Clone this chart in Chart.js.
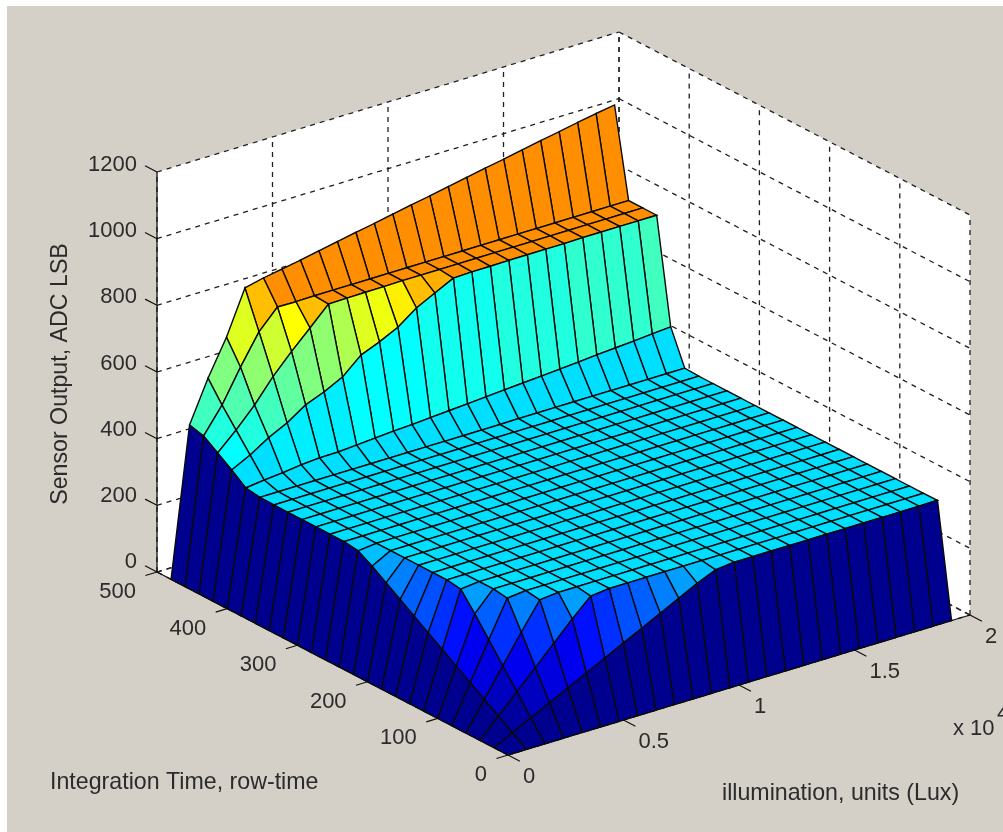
<!DOCTYPE html>
<html>
<head>
<meta charset="utf-8">
<title>Sensor Output</title>
<style>
    html, body { margin: 0; padding: 0; background: #ffffff; overflow: hidden; }
    #frame { position: absolute; left: 7px; top: 6px; width: 996px; height: 826px; background: #d4d0c8; }
    #surface { position: absolute; left: 0; top: 0; }
</style>
<script src="https://cdn.jsdelivr.net/npm/chart.js@4"></script>
</head>
<body>
<div id="frame"></div>
<canvas id="surface" width="1003" height="832"></canvas>
<script>
// ---------- Data ----------

const illumination = [0, 800, 1600, 2400, 3200, 4000, 4800, 5600, 6400, 7200, 8000, 8800, 9600,
    10400, 11200, 12000, 12800, 13600, 14400, 15200, 16000, 16800, 17600, 18400, 19200];

const integrationTime = [0, 20, 40, 60, 80, 100, 120, 140, 160, 180, 200, 220, 240,
    260, 280, 300, 320, 340, 360, 380, 400, 420, 440, 460, 480];

// sensor output, one list per integration time, one value per illumination
const outT0 = [0, 0, 0, 0, 0, 0, 0, 0, 0, 0, 0, 0, 0, 0, 0, 0, 0, 0, 0, 0, 0, 0, 0, 0, 0];
const outT20 = [0, 28, 56, 84, 112, 140, 168, 196, 224, 252, 280, 308, 332, 338, 338, 338, 338, 338, 338, 338, 338, 338, 338, 338, 339];
const outT40 = [0, 56, 112, 168, 224, 280, 332, 338, 338, 338, 338, 338, 338, 338, 338, 338, 338, 338, 338, 338, 338, 338, 338, 338, 338];
const outT60 = [0, 84, 168, 252, 332, 338, 338, 338, 338, 338, 338, 338, 338, 338, 338, 338, 338, 338, 338, 338, 338, 338, 338, 338, 338];
const outT80 = [0, 112, 224, 332, 338, 338, 338, 338, 338, 338, 338, 338, 338, 338, 338, 338, 338, 338, 338, 338, 338, 338, 338, 338, 338];
const outT100 = [0, 140, 280, 338, 338, 338, 338, 338, 338, 338, 338, 338, 338, 338, 338, 338, 338, 338, 338, 338, 338, 338, 338, 338, 338];
const outT120 = [0, 168, 332, 338, 338, 338, 338, 338, 338, 338, 338, 338, 338, 338, 338, 338, 338, 338, 338, 338, 338, 338, 338, 338, 338];
const outT140 = [0, 196, 338, 338, 338, 338, 338, 338, 338, 338, 338, 338, 338, 338, 338, 338, 338, 338, 338, 338, 338, 338, 338, 338, 338];
const outT160 = [0, 224, 338, 338, 338, 338, 338, 338, 338, 338, 338, 338, 338, 338, 338, 338, 338, 338, 338, 338, 338, 338, 338, 338, 338];
const outT180 = [0, 252, 338, 338, 338, 338, 338, 338, 338, 338, 338, 338, 338, 338, 338, 338, 338, 338, 338, 338, 338, 338, 338, 338, 338];
const outT200 = [0, 280, 338, 338, 338, 338, 338, 338, 338, 338, 338, 338, 338, 338, 338, 338, 338, 338, 338, 338, 338, 338, 338, 338, 338];
const outT220 = [0, 308, 338, 338, 338, 338, 338, 338, 338, 338, 338, 338, 338, 338, 338, 338, 338, 338, 338, 338, 338, 338, 338, 338, 338];
const outT240 = [0, 332, 338, 338, 338, 338, 338, 338, 338, 338, 338, 338, 338, 338, 338, 338, 338, 338, 338, 338, 338, 338, 338, 338, 338];
const outT260 = [0, 338, 338, 338, 338, 338, 338, 338, 338, 338, 338, 338, 338, 338, 338, 338, 338, 338, 338, 338, 338, 338, 338, 338, 338];
const outT280 = [0, 338, 338, 338, 338, 338, 338, 338, 338, 338, 338, 338, 338, 338, 338, 338, 338, 338, 338, 338, 338, 338, 338, 338, 338];
const outT300 = [0, 338, 338, 338, 338, 338, 338, 338, 338, 338, 338, 338, 338, 338, 338, 338, 338, 338, 338, 338, 338, 338, 338, 338, 338];
const outT320 = [0, 338, 338, 338, 338, 338, 338, 338, 338, 338, 338, 338, 338, 338, 338, 338, 338, 338, 338, 338, 338, 338, 338, 338, 338];
const outT340 = [0, 338, 338, 338, 338, 338, 338, 338, 338, 338, 338, 338, 338, 338, 338, 338, 338, 338, 338, 338, 338, 338, 338, 338, 338];
const outT360 = [0, 338, 338, 338, 338, 338, 338, 338, 338, 338, 338, 338, 338, 338, 338, 338, 338, 338, 338, 338, 338, 338, 338, 338, 338];
const outT380 = [0, 339, 339, 339, 339, 339, 339, 339, 339, 339, 339, 339, 339, 339, 339, 340, 340, 340, 340, 340, 340, 340, 340, 340, 340];
const outT400 = [0, 345, 352, 357, 364, 368, 369, 373, 377, 381, 384, 388, 392, 396, 400, 404, 408, 412, 416, 420, 425, 429, 433, 438, 442];
const outT420 = [0, 377, 405, 440, 468, 505, 527, 555, 604, 627, 654, 695, 723, 751, 753, 753, 754, 754, 754, 754, 755, 755, 755, 755, 755];
const outT440 = [0, 406, 458, 516, 585, 643, 697, 752, 753, 754, 754, 755, 755, 755, 755, 755, 755, 755, 755, 755, 755, 755, 755, 755, 755];
const outT460 = [0, 435, 511, 608, 697, 755, 754, 755, 755, 755, 755, 755, 755, 755, 755, 755, 755, 755, 755, 755, 755, 755, 755, 755, 755];
const outT480 = [0, 446, 570, 676, 807, 820, 830, 840, 851, 862, 873, 883, 894, 905, 915, 926, 937, 948, 958, 969, 980, 990, 1001, 1011, 1020];

const outputRows = [outT0, outT20, outT40, outT60, outT80, outT100, outT120, outT140, outT160, outT180, outT200, outT220, outT240,
    outT260, outT280, outT300, outT320, outT340, outT360, outT380, outT400, outT420, outT440, outT460, outT480];

const illuminationTicks = [0, 5000, 10000, 15000, 20000];
const illuminationLabels = ["0", "0.5", "1", "1.5", "2"];
const timeTicks = [0, 100, 200, 300, 400, 500];
const timeLabels = ["0", "100", "200", "300", "400", "500"];
const outputTicks = [0, 200, 400, 600, 800, 1000, 1200];
const outputLabels = ["0", "200", "400", "600", "800", "1000", "1200"];

const colourMax = 1030;

// ---------- 3D view ----------

const originPx = [508, 755];
const illuminationPx = [462, -140];
const timePx = [-351, -183];
const outputPx = [0, -400];

function project(lux, time, output) {
    return {
        x: originPx[0] + lux / 20000 * illuminationPx[0] + time / 500 * timePx[0] + output / 1200 * outputPx[0],
        y: originPx[1] + lux / 20000 * illuminationPx[1] + time / 500 * timePx[1] + output / 1200 * outputPx[1]
    };
}

// matlab jet, 64 steps
function jetColor(value) {
    const step = Math.min(Math.floor(value / colourMax * 64), 63) + 1;
    const v = step / 64;
    const channel = (c) => Math.round(255 * Math.max(0, Math.min(1, 1.5 - Math.abs(4 * v - c))));
    return "rgb(" + channel(3) + "," + channel(2) + "," + channel(1) + ")";
}

// ---------- Datasets ----------

// pushed in painting order, reversed at the end since Chart.js paints the last dataset first
const layers = [];

function addWall(corners) {
    layers.push({
        data: corners.map((c) => project(c[0], c[1], c[2])),
        polygon: true,
        backgroundColor: "#ffffff",
        borderWidth: 0
    });
}

function addLine(a, b, dashed, width) {
    layers.push({
        data: [project(a[0], a[1], a[2]), project(b[0], b[1], b[2])],
        borderColor: dashed ? "#202020" : "#111111",
        borderWidth: width,
        borderDash: dashed ? [5, 5] : []
    });
}

addWall([[0, 500, 0], [20000, 500, 0], [20000, 500, 1200], [0, 500, 1200]]);
addWall([[20000, 0, 0], [20000, 500, 0], [20000, 500, 1200], [20000, 0, 1200]]);
addWall([[0, 0, 0], [20000, 0, 0], [20000, 500, 0], [0, 500, 0]]);

illuminationTicks.forEach((lux) => {
    addLine([lux, 0, 0], [lux, 500, 0], true, 1.3);
    addLine([lux, 500, 0], [lux, 500, 1200], true, 1.3);
});
timeTicks.forEach((time) => {
    addLine([0, time, 0], [20000, time, 0], true, 1.3);
    addLine([20000, time, 0], [20000, time, 1200], true, 1.3);
});
outputTicks.forEach((output) => {
    addLine([0, 500, output], [20000, 500, output], true, 1.3);
    addLine([20000, 500, output], [20000, 0, output], true, 1.3);
});

// axis lines and tick marks
addLine([0, 500, 0], [0, 500, 1200], false, 1.3);
addLine([0, 0, 0], [20000, 0, 0], false, 1.3);
addLine([0, 0, 0], [0, 500, 0], false, 1.3);
outputTicks.forEach((output) => addLine([0, 500, output], [0, 517, output], false, 1.2));
timeTicks.forEach((time) => addLine([0, time, 0], [-500, time, 0], false, 1.2));
illuminationTicks.forEach((lux) => addLine([lux, 0, 0], [lux, -17, 0], false, 1.2));

// surface facets, far corner first, colour taken from the low corner like matlab does
for (let r = integrationTime.length - 2; r >= 0; r--) {
    for (let k = illumination.length - 2; k >= 0; k--) {
        const corners = [
            project(illumination[k], integrationTime[r], outputRows[r][k]),
            project(illumination[k + 1], integrationTime[r], outputRows[r][k + 1]),
            project(illumination[k + 1], integrationTime[r + 1], outputRows[r + 1][k + 1]),
            project(illumination[k], integrationTime[r + 1], outputRows[r + 1][k])
        ];
        corners.push(corners[0]);
        layers.push({
            data: corners,
            polygon: true,
            backgroundColor: jetColor(outputRows[r][k]),
            borderColor: "#0a0a0a",
            borderWidth: 1.4
        });
    }
}

// ---------- Plugins ----------

const polygonFill = {
    id: "polygonFill",
    beforeDatasetDraw(chart, args) {
        const dataset = chart.data.datasets[args.index];
        if (!dataset.polygon) return;
        const ctx = chart.ctx;
        ctx.save();
        ctx.beginPath();
        args.meta.data.forEach((point, i) => {
            if (i === 0) ctx.moveTo(point.x, point.y);
            else ctx.lineTo(point.x, point.y);
        });
        ctx.closePath();
        ctx.fillStyle = dataset.backgroundColor;
        ctx.fill();
        ctx.restore();
    }
};

const axisText = {
    id: "axisText",
    afterDraw(chart) {
        const ctx = chart.ctx;
        const sx = chart.scales.x;
        const sy = chart.scales.y;
        const put = (text, x, y, align) => {
            ctx.textAlign = align;
            ctx.fillText(text, sx.getPixelForValue(x), sy.getPixelForValue(y));
        };
        ctx.save();
        ctx.fillStyle = "#2b2b2b";
        ctx.textBaseline = "middle";
        ctx.font = "22px 'Liberation Sans'";

        outputTicks.forEach((output, i) => {
            const p = project(0, 500, output);
            put(outputLabels[i], p.x - 20, p.y - 10 + output / 1200 * 3, "right");
        });
        timeTicks.forEach((time, i) => {
            const p = project(0, time, 0);
            put(timeLabels[i], p.x - 21, p.y + 20, "right");
        });
        illuminationTicks.forEach((lux, i) => {
            const p = project(lux, 0, 0);
            put(illuminationLabels[i], p.x + 15, p.y + 22, "left");
        });

        put("x 10", 953, 729, "left");
        put("4", 997, 714, "left");

        ctx.font = "23.2px 'Liberation Sans'";
        put("Integration Time, row-time", 50, 783, "left");
        put("illumination, units (Lux)", 722, 794, "left");

        ctx.translate(61, 374);
        ctx.rotate(-Math.PI / 2);
        ctx.textAlign = "center";
        ctx.fillText("Sensor Output, ADC LSB", 0, 0);
        ctx.restore();
    }
};

// ---------- Chart ----------

new Chart(document.getElementById("surface"), {

    type: "scatter",

    data: {
        datasets: layers.slice().reverse().map((layer) => Object.assign({
            showLine: true,
            fill: false,
            tension: 0,
            pointRadius: 0,
            pointHoverRadius: 0
        }, layer))
    },

    options: {

        responsive: false,

        animation: false,

        events: [],

        layout: { padding: 0 },

        plugins: {
            legend: { display: false },
            tooltip: { enabled: false }
        },

        scales: {
            x: { type: "linear", display: false, min: 0, max: 1003 },
            y: { type: "linear", display: false, min: 0, max: 832, reverse: true }
        }

    },

    plugins: [polygonFill, axisText]

});
</script>
</body>
</html>
